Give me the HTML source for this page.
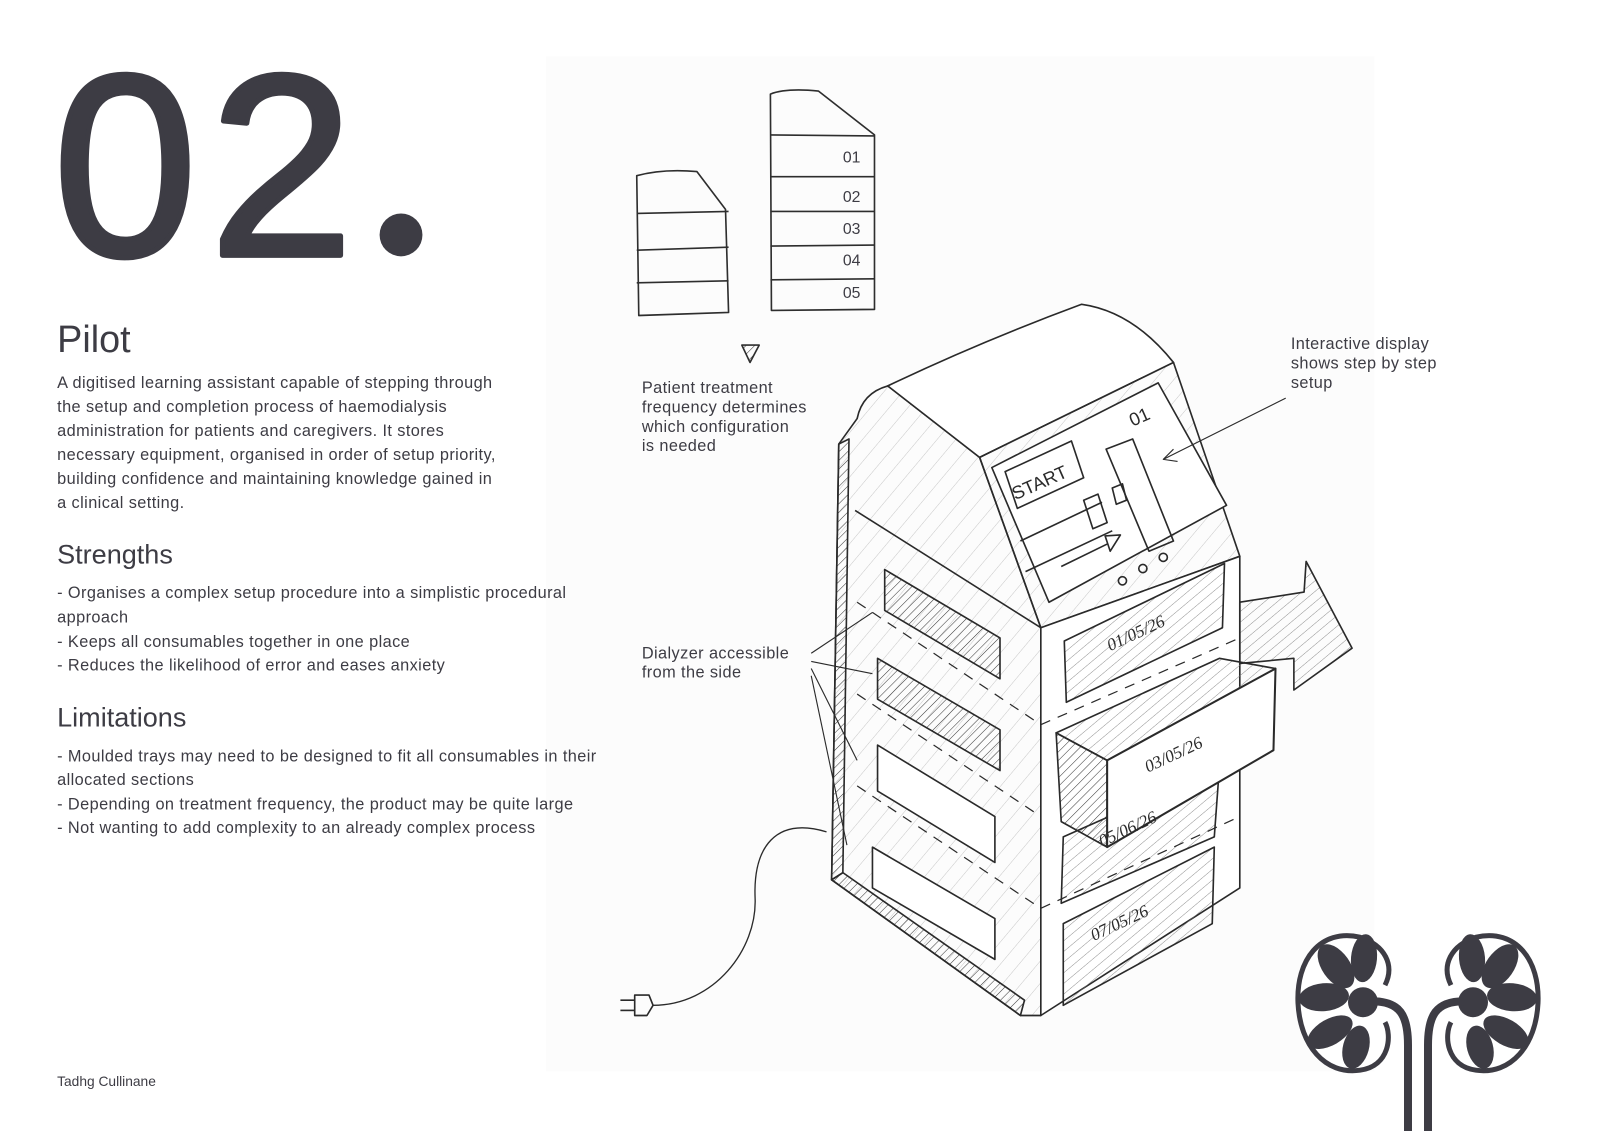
<!DOCTYPE html>
<html><head><meta charset="utf-8"><style>
html,body{margin:0;padding:0;background:#fff;}
svg{display:block}
text{font-family:"Liberation Sans",sans-serif;fill:#3d3c44}
</style></head><body>
<svg width="1600" height="1131" viewBox="0 0 1568 1108" xmlns="http://www.w3.org/2000/svg">
<defs>
<pattern id="h" width="6" height="6" patternUnits="userSpaceOnUse" patternTransform="rotate(45)"><line x1="0" y1="0" x2="0" y2="6" stroke="#333" stroke-width="1"/></pattern>
<pattern id="hl" width="14" height="14" patternUnits="userSpaceOnUse" patternTransform="rotate(40)"><line x1="0" y1="0" x2="0" y2="14" stroke="#bbb" stroke-width="0.8"/></pattern>
<pattern id="hm" width="8" height="8" patternUnits="userSpaceOnUse" patternTransform="rotate(50)"><line x1="0" y1="0" x2="0" y2="8" stroke="#777" stroke-width="0.8"/></pattern>
</defs>
<rect x="0" y="0" width="1568" height="1108" fill="#fff"/>
<rect x="535" y="55" width="812" height="995" fill="#fcfcfc"/>

<text x="52" y="250" font-size="254" letter-spacing="12" stroke="#3d3c44" stroke-width="5" stroke-linejoin="round">02</text>
<circle cx="393" cy="230" r="21" fill="#3d3c44"/>
<text x="56" y="345" font-size="37">Pilot</text>
<g font-size="16" letter-spacing="0.4">
<text x="56" y="380">A digitised learning assistant capable of stepping through</text>
<text x="56" y="403.5">the setup and completion process of haemodialysis</text>
<text x="56" y="427">administration for patients and caregivers. It stores</text>
<text x="56" y="450.5">necessary equipment, organised in order of setup priority,</text>
<text x="56" y="474">building confidence and maintaining knowledge gained in</text>
<text x="56" y="497.5">a clinical setting.</text>
</g>
<text x="56" y="552" font-size="26.5">Strengths</text>
<g font-size="16" letter-spacing="0.4">
<text x="56" y="586">- Organises a complex setup procedure into a simplistic procedural</text>
<text x="56" y="610">approach</text>
<text x="56" y="634">- Keeps all consumables together in one place</text>
<text x="56" y="657">- Reduces the likelihood of error and eases anxiety</text>
</g>
<text x="56" y="712" font-size="26.5">Limitations</text>
<g font-size="16" letter-spacing="0.4">
<text x="56" y="746">- Moulded trays may need to be designed to fit all consumables in their</text>
<text x="56" y="769">allocated sections</text>
<text x="56" y="793">- Depending on treatment frequency, the product may be quite large</text>
<text x="56" y="816">- Not wanting to add complexity to an already complex process</text>
</g>
<text x="56" y="1064" font-size="13.5">Tadhg Cullinane</text>

<g font-size="16" letter-spacing="0.4">
<text x="629" y="385">Patient treatment</text>
<text x="629" y="404">frequency determines</text>
<text x="629" y="423">which configuration</text>
<text x="629" y="442">is needed</text>
<text x="1265" y="342">Interactive display</text>
<text x="1265" y="361">shows step by step</text>
<text x="1265" y="380">setup</text>
<text x="629" y="645">Dialyzer accessible</text>
<text x="629" y="664">from the side</text>
</g>

<g fill="none" stroke="#2e2e2e" stroke-width="1.6" stroke-linejoin="round">
<path d="M624,172 Q650,165 683,168 L711,205 L714,306 L626,309 Z"/>
<line x1="624" y1="209" x2="714" y2="207"/>
<line x1="624" y1="245" x2="714" y2="242"/>
<line x1="624" y1="277" x2="714" y2="275"/>
<path d="M755,92 Q770,86 802,89 L857,132 L857,303 L756,304 Z"/>
<line x1="755" y1="132" x2="857" y2="133"/>
<line x1="755" y1="173" x2="857" y2="173"/>
<line x1="755" y1="207" x2="857" y2="207"/>
<line x1="755" y1="241" x2="857" y2="240"/>
<line x1="755" y1="274" x2="857" y2="273"/>
<path d="M727,338 L744,338 L735,355 Z" fill="url(#h)"/>
</g>
<g font-size="15.5">
<text x="826" y="159">01</text><text x="826" y="198">02</text><text x="826" y="229">03</text><text x="826" y="260">04</text><text x="826" y="292">05</text>
</g>

<g stroke="#2a2a2a" stroke-width="1.6" stroke-linejoin="round" fill="none">
<path d="M840,410 Q845,385 870,378 L960,448 L1020,615 L1020,995 L1000,995 L815,862 L822,435 Z" fill="url(#hl)"/>
<path d="M822,435 L832,430 L826,855 L815,862 Z" fill="url(#h)"/>
<path d="M815,862 L826,855 L1004,980 L1000,995 Z" fill="url(#h)"/>
<path d="M870,378 Q960,335 1060,298 Q1110,305 1150,355 L960,448 Z" fill="#fff"/>
<path d="M960,448 L1150,355 L1215,545 L1020,615 Z" fill="url(#hl)"/>
<path d="M972,458 L1135,375 L1202,495 L1028,590 Z" fill="#fff"/>
<path d="M985,462 L1050,432 L1062,468 L997,498 Z"/>
<line x1="1000" y1="530" x2="1080" y2="492"/>
<line x1="1005" y1="560" x2="1090" y2="520"/>
<path d="M1062,490 L1076,484 L1085,512 L1071,518 Z"/>
<path d="M1084,440 L1110,430 L1150,530 L1126,540 Z"/>
<path d="M1090,478 L1100,474 L1104,490 L1094,494 Z"/>
<line x1="1040" y1="555" x2="1085" y2="533"/>
<path d="M1083,525 L1098,524 L1088,540 Z"/>
<circle cx="1100" cy="569" r="4"/><circle cx="1120" cy="557" r="4"/><circle cx="1140" cy="546" r="4"/>
<path d="M1020,615 L1215,545 L1215,870 L1020,995 Z" fill="#fff"/>
<path d="M1043,628 L1200,552 L1198,615 L1045,688 Z" fill="url(#hm)"/>
<path d="M1042,820 L1195,752 L1190,820 L1040,885 Z" fill="url(#hm)"/>
<path d="M1042,905 L1190,830 L1188,905 L1042,985 Z" fill="url(#hm)"/>
<path d="M1035,718 L1195,645 L1250,655 L1085,745 Z" fill="url(#hm)"/>
<path d="M1035,718 L1085,745 L1085,830 L1040,805 Z" fill="url(#h)"/>
<path d="M1085,745 L1250,655 L1248,735 L1085,830 Z" fill="#fff" stroke-width="2"/>
<g stroke-dasharray="10 8" stroke-width="1.2">
<line x1="840" y1="590" x2="1020" y2="710"/>
<line x1="840" y1="680" x2="1020" y2="800"/>
<line x1="840" y1="770" x2="1020" y2="890"/>
<line x1="1020" y1="710" x2="1215" y2="625"/>
<line x1="1020" y1="890" x2="1215" y2="800"/>
</g>
<line x1="838" y1="500" x2="1020" y2="615"/>
<path d="M867,558 L980,625 L980,665 L867,598 Z" fill="url(#h)"/>
<path d="M860,645 L980,715 L980,755 L860,685 Z" fill="url(#h)"/>
<path d="M860,730 L975,800 L975,845 L860,775 Z" fill="#fff"/>
<path d="M855,830 L975,900 L975,940 L855,870 Z" fill="#fff"/>
<path d="M1215,590 L1278,580 L1280,550 L1325,635 L1268,676 L1268,645 L1215,650 Z" fill="url(#hm)"/>
<path d="M810,815 C760,800 738,830 740,880 C742,930 700,985 640,985" stroke-width="1.3"/>
<path d="M622,975 L636,975 L640,985 L634,995 L622,995 Z"/>
<line x1="608" y1="980" x2="622" y2="980"/><line x1="608" y1="990" x2="622" y2="990"/>
<g stroke-width="1.1">
<line x1="1260" y1="390" x2="1140" y2="450"/><path d="M1150,440 L1140,450 L1154,452"/>
<line x1="795" y1="640" x2="855" y2="600"/>
<line x1="795" y1="648" x2="855" y2="660"/>
<line x1="795" y1="655" x2="840" y2="745"/>
<line x1="795" y1="662" x2="830" y2="828"/>
</g>
</g>
<g font-size="18">
<text transform="translate(995,490) rotate(-24)" style="fill:#2a2a2a">START</text>
<text transform="translate(1110,418) rotate(-24)" style="fill:#2a2a2a">01</text>
</g>
<g font-size="17" font-style="italic">
<text transform="translate(1088,638) rotate(-25)" style="fill:#2a2a2a;font-family:'Liberation Serif',serif">01/05/26</text>
<text transform="translate(1125,757) rotate(-25)" style="fill:#2a2a2a;font-family:'Liberation Serif',serif">03/05/26</text>
<text transform="translate(1080,830) rotate(-25)" style="fill:#2a2a2a;font-family:'Liberation Serif',serif">05/06/26</text>
<text transform="translate(1072,922) rotate(-25)" style="fill:#2a2a2a;font-family:'Liberation Serif',serif">07/05/26</text>
</g>

<g transform="scale(0.98)">
<g id="k" fill="none" stroke="#3d3c44">
<path d="M1385,985 C1395,965 1385,945 1360,937 C1320,928 1296,960 1298,1003 C1300,1045 1325,1075 1360,1070 C1390,1066 1392,1035 1385,1022" stroke-width="5" fill="#fff"/>
<g fill="#3d3c44" stroke="none">
<circle cx="1363" cy="1002" r="15"/>
<ellipse cx="1336" cy="966" rx="14" ry="25" transform="rotate(-35 1336 966)"/>
<ellipse cx="1364" cy="958" rx="13" ry="24" transform="rotate(5 1364 958)"/>
<ellipse cx="1324" cy="997" rx="25" ry="14" transform="rotate(-5 1324 997)"/>
<ellipse cx="1330" cy="1032" rx="25" ry="13" transform="rotate(-30 1330 1032)"/>
<ellipse cx="1356" cy="1047" rx="13" ry="22" transform="rotate(15 1356 1047)"/>
</g>
<path d="M1372,1001 C1400,1001 1408,1015 1408,1045 L1408,1131" stroke-width="8"/>
</g>
<use href="#k" transform="translate(2836,0) scale(-1,1)"/>
</g>
</svg>
</body></html>
